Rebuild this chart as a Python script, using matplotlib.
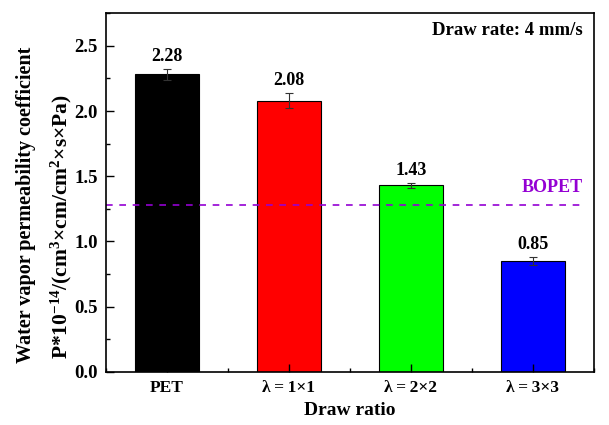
import matplotlib.pyplot as plt
from matplotlib.ticker import MultipleLocator

# Data
samples = ['PET', 'λ\u2009=\u20091×1', 'λ\u2009=\u20092×2', 'λ\u2009=\u20093×3']
values = [2.28, 2.08, 1.43, 0.85]
errors = [0.045, 0.06, 0.02, 0.03]
colors = ['#000000', '#ff0000', '#00ff00', '#0000ff']
bopet = 1.28

plt.rcParams['font.family'] = ['Liberation Serif', 'DejaVu Serif']
plt.rcParams['font.weight'] = 'bold'
plt.rcParams['mathtext.fontset'] = 'custom'
plt.rcParams['mathtext.rm'] = 'Liberation Serif:bold'
plt.rcParams['mathtext.it'] = 'Liberation Serif:bold'
plt.rcParams['mathtext.bf'] = 'Liberation Serif:bold'

fig = plt.figure(figsize=(6.09, 4.25), dpi=100)
ax = fig.add_axes([0.174, 0.125, 0.801, 0.844])

x = list(range(len(samples)))
ax.bar(x, values, width=0.52, color=colors, edgecolor='black', linewidth=0.8,
       yerr=errors, capsize=3, error_kw=dict(ecolor='#333333', elinewidth=0.8, capthick=0.8))

for xi, v, e in zip(x, values, errors):
    ax.text(xi, v + e + 0.03, f'{v:.2f}', ha='center', va='bottom', fontsize=13, fontweight='bold')

ax.plot([-0.5, 3.42], [bopet, bopet], ls=(0, (4, 4)), color='#9400d3', lw=1.2)
ax.text(3.41, bopet + 0.07, 'BOPET', ha='right', va='bottom', color='#9400d3',
        fontsize=13, fontweight='bold')

ax.text(3.41, 2.62, 'Draw rate: 4 mm/s', ha='right', va='center', fontsize=13.5, fontweight='bold')

ax.set_xlim(-0.5, 3.5)
ax.set_ylim(0, 2.75)
ax.set_xticks(x)
ax.set_xticklabels(samples, fontsize=12.5, fontweight='bold')
ax.xaxis.set_minor_locator(MultipleLocator(0.5))
ax.yaxis.set_major_locator(MultipleLocator(0.5))
ax.yaxis.set_minor_locator(MultipleLocator(0.25))
ax.yaxis.set_major_formatter(plt.FormatStrFormatter('%.1f'))
for lab in ax.get_yticklabels():
    lab.set_fontsize(13.5)
    lab.set_fontweight('bold')
ax.tick_params(which='both', direction='in', top=False, right=False, width=1)
ax.tick_params(which='major', length=6, pad=6)
ax.tick_params(which='minor', length=3)
ax.tick_params(axis='y', labelsize=13.5)
for s in ax.spines.values():
    s.set_linewidth(1.2)

ax.set_xlabel('Draw ratio', fontsize=14, fontweight='bold', labelpad=4)

# two-line y label, placed as separate texts (lines are offset in the reference)
fig.text(0.043, 0.518, 'Water vapor permeability coefficient', rotation=90,
         ha='center', va='center', fontsize=14.5, fontweight='bold')
fig.text(0.100, 0.466,
         'P*10$^{\\mathregular{-14}}$/(cm$^{\\mathregular{3}}$×cm/cm$^{\\mathregular{2}}$×s×Pa)',
         rotation=90, ha='center', va='center', fontsize=15.5, fontweight='bold')

fig.savefig('out.png', dpi=100)
